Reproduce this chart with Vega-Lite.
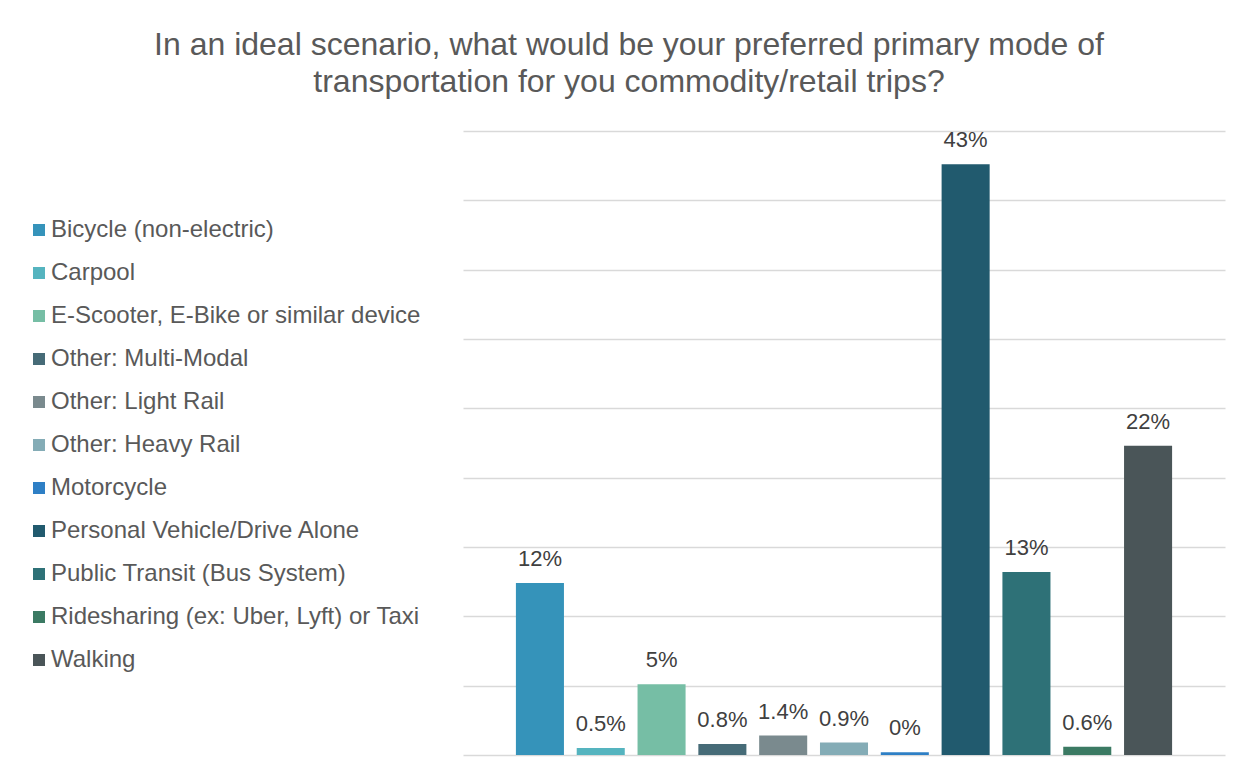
{
  "$schema": "https://vega.github.io/schema/vega-lite/v6.json",
  "autosize": {"type": "none"},
  "width": 762,
  "height": 624,
  "padding": {"left": 463, "top": 131, "right": 18, "bottom": 25},
  "background": "white",
  "title": {
    "text": ["In an ideal scenario, what would be your preferred primary mode of", "transportation for you commodity/retail trips?"],
    "font": "Liberation Sans",
    "fontSize": 32,
    "fontWeight": "normal",
    "color": "#595959",
    "anchor": "middle",
    "dx": -215,
    "offset": 30,
    "lineHeight": 37
  },
  "data": {
    "values": [
      {"mode": "Bicycle (non-electric)", "share": 0.124, "label": "12%"},
      {"mode": "Carpool", "share": 0.005, "label": "0.5%"},
      {"mode": "E-Scooter, E-Bike or similar device", "share": 0.051, "label": "5%"},
      {"mode": "Other: Multi-Modal", "share": 0.008, "label": "0.8%"},
      {"mode": "Other: Light Rail", "share": 0.014, "label": "1.4%"},
      {"mode": "Other: Heavy Rail", "share": 0.009, "label": "0.9%"},
      {"mode": "Motorcycle", "share": 0.002, "label": "0%"},
      {"mode": "Personal Vehicle/Drive Alone", "share": 0.426, "label": "43%"},
      {"mode": "Public Transit (Bus System)", "share": 0.132, "label": "13%"},
      {"mode": "Ridesharing (ex: Uber, Lyft) or Taxi", "share": 0.006, "label": "0.6%"},
      {"mode": "Walking", "share": 0.223, "label": "22%"}
    ]
  },
  "encoding": {
    "x": {
      "field": "mode",
      "type": "nominal",
      "sort": null,
      "scale": {"paddingInner": 0.21, "paddingOuter": 0.87},
      "axis": null
    },
    "y": {
      "field": "share",
      "type": "quantitative",
      "scale": {"domain": [0, 0.45], "nice": false},
      "axis": {
        "values": [0, 0.05, 0.1, 0.15, 0.2, 0.25, 0.3, 0.35, 0.4, 0.45],
        "labels": false,
        "ticks": false,
        "domain": false,
        "title": null,
        "grid": true,
        "gridColor": "#D9D9D9",
        "gridWidth": 1.5
      }
    }
  },
  "layer": [
    {
      "mark": {"type": "bar"},
      "encoding": {
        "color": {
          "field": "mode",
          "type": "nominal",
          "sort": null,
          "scale": {
            "domain": ["Bicycle (non-electric)", "Carpool", "E-Scooter, E-Bike or similar device", "Other: Multi-Modal", "Other: Light Rail", "Other: Heavy Rail", "Motorcycle", "Personal Vehicle/Drive Alone", "Public Transit (Bus System)", "Ridesharing (ex: Uber, Lyft) or Taxi", "Walking"],
            "range": ["#3593BA", "#55B4BF", "#76BEA5", "#466B77", "#7A8A8E", "#84ACB6", "#2E7FC5", "#215A6E", "#2E7177", "#3B7A63", "#4A5558"]
          },
          "legend": {
            "orient": "none",
            "legendX": -436,
            "legendY": 87,
            "title": null,
            "symbolType": "square",
            "symbolSize": 144,
            "symbolStrokeWidth": 0,
            "labelFont": "Liberation Sans",
            "labelFontSize": 24,
            "labelColor": "#595959",
            "labelLimit": 500,
            "labelOffset": 0,
            "rowPadding": 19
          }
        }
      }
    },
    {
      "mark": {"type": "text", "baseline": "bottom", "dy": -12, "font": "Liberation Sans", "fontSize": 22, "color": "#404040"},
      "encoding": {"text": {"field": "label"}}
    }
  ],
  "config": {"view": {"stroke": null}}
}
